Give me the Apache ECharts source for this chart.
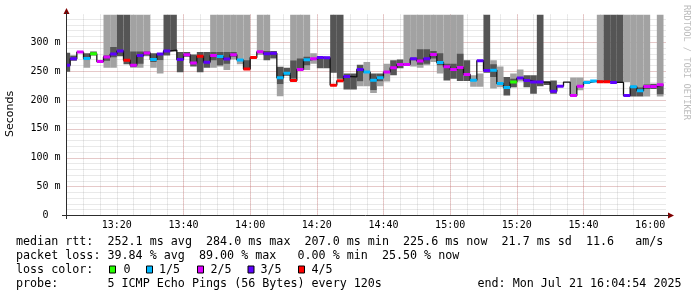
<!DOCTYPE html>
<html><head><meta charset="utf-8">
<script src="https://cdn.jsdelivr.net/npm/echarts@6/dist/echarts.min.js"></script>
<style>html,body{margin:0;padding:0;background:#fff}#c{width:697px;height:297px}</style>
</head><body><div id="c"></div>
<script>
// time in minutes after 13:00; view 13:04:54 .. 16:04:54, one sample every 2 min
const viewStart = 4.9;
const viewEnd = 184.9;
const stepMin = 2;
const firstEnd = 6; // sample i covers (firstEnd-2+2i, firstEnd+2i]
const plotTop = 348;
const majorTicks = [20,40,60,80,100,120,140,160,180];          // 13:20 ... 16:00
const minorTicks = [5,10,15,20,25,30,35,40,45,50,55,60,65,70,75,80,85,90,95,100,
  105,110,115,120,125,130,135,140,145,150,155,160,165,170,175,180];

const median = [260,271.5,283,272,280,266.5,274.5,279.5,285,269,
 260,277,281.5,270,279.5,285,286.5,270,278.5,264,
 276,265.5,277,275.5,271,278.5,269.5,253.5,273.5,283.5,
 280,281,238.5,246.5,233.8,253,269.7,271.4,273.7,273,
 225.7,233.2,240.7,240,253,248.3,234.4,238.4,248.3,255.8,
 261.6,261.6,271.4,267.4,271.4,279,265,257.5,252.9,256.4,
 244,234.4,268,251,251.7,228.6,221.7,231,238,234,
 231,231,231,215,224,231,207.6,224,230.5,232.8,
 231.7,231.7,230.5,230.5,207.6,222.8,215.9,223.4,223.4,226.3];
// loss index: 0 = 0, 1 = 1/5, 2 = 2/5, 3 = 3/5, 4 = 4/5, -1 = not coloured
const loss = [3,3,2,1,0,2,2,3,3,4,
 2,3,2,1,3,3,-1,3,2,2,
 4,3,2,1,3,2,1,4,4,2,
 3,3,1,1,4,2,1,2,3,3,
 4,4,3,-1,3,1,1,1,2,2,
 2,2,3,2,3,2,1,2,2,2,
 2,1,3,3,1,1,1,0,3,3,
 3,3,-1,3,3,-1,2,2,1,1,
 4,4,3,-1,3,1,1,2,2,2];
const lightLo = [null,null,null,256,null,null,256,256,null,null,
 256,256,276,256,246,null,null,null,null,null,
 null,null,256,258,252,270,262,252,null,278,
 278,null,206.5,null,269,269,252,263,null,null,
 null,null,null,null,224,224,212,224,232,null,
 null,260,258,256,260,266,246,250,250,250,
 null,223,223,null,220,222,null,222,232,null,
 null,null,null,null,null,null,206,217,228,null,
 232,null,null,null,231,225,222,206,null,206];
const lightHi = [null,null,null,269,null,null,348,348,null,null,
 348,348,348,266,269,null,null,null,null,null,
 null,null,348,348,348,348,348,348,null,348,
 348,null,227.5,null,348,348,348,281,null,null,
 null,null,null,null,232,266,217,232,263,null,
 null,348,348,348,348,348,348,348,348,348,
 null,243,246,null,269,258,null,246,253,null,
 null,null,null,null,null,null,239,239,234,null,
 348,null,null,null,348,348,348,348,null,348];
const darkLo = [249,268,null,269,277,null,268,274,276,262,
 257,263,277,266,269,277,284,248,275,258,
 248,256,269,260,263,275,null,254,null,null,
 269,272,227.5,242,237,253,260,null,255,255,
 247,237,218,218,232,null,217,232,null,243,
 255,null,269,261,263,272,260,234,237,233,
 233,null,null,247,240,null,208,222,null,222,
 211,224,226,211,null,null,null,null,null,null,
 null,232,231,231,null,206,206,219,219,210];
const darkHi = [282,277,null,281,284,null,277,292,348,348,
 284,284,284,281,281,348,348,283,283,279,
 283,283,283,283,283,283,null,269,null,null,
 285,285,257.5,256,269,272,275,null,274,275,
 348,348,246,246,261,null,246,246,null,269,
 270,null,273,288,288,285,281,263,263,280,
 269,null,null,348,262,null,240,237,null,243,
 243,348,232,234,null,null,null,null,null,null,
 null,348,348,348,null,225,222,227,228,225];

const lossColors = ['#26ff00','#00b8ff','#dd00ff','#5e00ff','#ff0000'];
const lossLabels = ['0','1/5','2/5','3/5','4/5'];
const smokeDark = '#555555', smokeLight = '#a2a2a2';
const minorGrid = 'rgba(140,140,140,0.38)', majorGrid = 'rgba(222,80,80,0.42)';

function bounds(i){
  const e = firstEnd + i*stepMin;
  return [Math.max(e - stepMin, viewStart), Math.min(e, viewEnd)];
}
const smokeData = median.map((m,i)=>{const b=bounds(i);return [b[0],b[1],lightLo[i],lightHi[i],darkLo[i],darkHi[i]];});
const stepLine = [];
median.forEach((m,i)=>{const b=bounds(i);stepLine.push([b[0],m],[b[1],m]);});
const medData = median.map((m,i)=>{const b=bounds(i);return [b[0],b[1],m,loss[i]];});

function box(api,x0,x1,lo,hi,fill){
  const a = api.coord([x0,hi]), b = api.coord([x1,lo]);
  return {type:'rect',shape:{x:a[0],y:a[1],width:b[0]-a[0],height:b[1]-a[1]},style:{fill:fill}};
}
const mono = 'DejaVu Sans Mono';
const chart = echarts.init(document.getElementById('c'),null,{renderer:'canvas'});
const fmtTime = v=>{const h=13+Math.floor(v/60), m=Math.round(v%60);return h+':'+(m<10?'0':'')+m;};

const legendY = [241.5,255.5,269.5,283.5];
const graphic = [
  {type:'text',x:10,y:114,rotation:Math.PI/2,style:{text:'Seconds',font:'11px "DejaVu Sans"',fill:'#000',align:'center',verticalAlign:'middle'}},
  {type:'text',x:686.5,y:5,rotation:-Math.PI/2,style:{text:'RRDTOOL / TOBI OETIKER',font:'8.7px "DejaVu Sans Mono"',fill:'#bdbdbd',align:'left',verticalAlign:'middle'}},
  {type:'polygon',z:20,shape:{points:[[66.5,8],[63.5,14],[69.5,14]]},style:{fill:'#7f0000'}},
  {type:'polygon',z:20,shape:{points:[[674,215.5],[668,212.5],[668,218.5]]},style:{fill:'#7f0000'}},
  {type:'line',z:20,shape:{x1:62,y1:215.5,x2:669,y2:215.5},style:{stroke:'#2c2c2c',lineWidth:1}},
  {type:'line',z:20,shape:{x1:66.5,y1:12,x2:66.5,y2:219},style:{stroke:'#2c2c2c',lineWidth:1}},
  {type:'text',x:16,y:legendY[0],style:{text:'median rtt:  252.1 ms avg  284.0 ms max  207.0 ms min  225.6 ms now  21.7 ms sd  11.6   am/s',font:'11.7px "DejaVu Sans Mono"',fill:'#000',verticalAlign:'middle'}},
  {type:'text',x:16,y:legendY[1],style:{text:'packet loss: 39.84 % avg  89.00 % max   0.00 % min  25.50 % now',font:'11.7px "DejaVu Sans Mono"',fill:'#000',verticalAlign:'middle'}},
  {type:'text',x:16,y:legendY[2],style:{text:'loss color:',font:'11.7px "DejaVu Sans Mono"',fill:'#000',verticalAlign:'middle'}},
  {type:'text',x:16,y:legendY[3],style:{text:'probe:       5 ICMP Echo Pings (56 Bytes) every 120s',font:'11.7px "DejaVu Sans Mono"',fill:'#000',verticalAlign:'middle'}},
  {type:'text',x:477.5,y:legendY[3],style:{text:'end: Mon Jul 21 16:04:54 2025',font:'11.7px "DejaVu Sans Mono"',fill:'#000',verticalAlign:'middle'}}
];
const boxX = [109,146,197,247.5,298];
const labX = [123.5,159,210.5,260.5,311.5];
lossLabels.forEach((t,k)=>{
  graphic.push({type:'rect',shape:{x:boxX[k]+0.5,y:legendY[2]-3.5,width:6,height:7},style:{fill:lossColors[k],stroke:'#000',lineWidth:1}});
  graphic.push({type:'text',x:labX[k],y:legendY[2],style:{text:t,font:'11.7px "DejaVu Sans Mono"',fill:'#000',verticalAlign:'middle'}});
});

chart.setOption({
  animation:false,
  backgroundColor:'#fff',
  grid:{left:66.5,right:697-666.5,top:215-plotTop*0.576,bottom:297-215.5,containLabel:false},
  xAxis:[
    {type:'value',position:'bottom',min:viewStart,max:viewEnd,
     axisLine:{show:false},axisTick:{show:false,customValues:minorTicks},axisLabel:{show:false,customValues:minorTicks},
     splitLine:{show:true,showMinLine:false,showMaxLine:false,lineStyle:{color:minorGrid,type:[1,1],width:1}}},
    {type:'value',position:'bottom',min:viewStart,max:viewEnd,z:1,
     axisLine:{show:false},axisTick:{show:false,customValues:majorTicks},
     axisLabel:{show:true,customValues:majorTicks,formatter:fmtTime,fontFamily:mono,fontSize:10,color:'#000',margin:5},
     splitLine:{show:true,showMinLine:false,showMaxLine:false,lineStyle:{color:majorGrid,type:[1,1],width:1}}}
  ],
  yAxis:[
    {type:'value',position:'left',min:0,max:plotTop,interval:10,
     axisLine:{show:false},axisTick:{show:false},axisLabel:{show:false},
     splitLine:{show:true,showMinLine:false,showMaxLine:false,lineStyle:{color:minorGrid,type:[1,1],width:1}}},
    {type:'value',position:'left',min:0,max:plotTop,interval:50,z:1,
     axisLine:{show:false},axisTick:{show:false},
     axisLabel:{show:true,showMaxLabel:false,formatter:v=>v===0?'0\u00a0\u00a0':v+' m',fontFamily:mono,fontSize:10,color:'#000',margin:6},
     splitLine:{show:true,showMinLine:false,showMaxLine:false,lineStyle:{color:majorGrid,type:[1,1],width:1}}}
  ],
  graphic:graphic,
  series:[
    {type:'custom',xAxisIndex:1,yAxisIndex:1,z:2,clip:true,data:smokeData,
     encode:{x:[0,1],y:[2,3,4,5]},
     renderItem:(params,api)=>{
       const x0=api.value(0),x1=api.value(1);
       const ll=api.value(2),lh=api.value(3),dl=api.value(4),dh=api.value(5);
       const ch=[];
       if(!isNaN(ll)&&!isNaN(lh)) ch.push(box(api,x0,x1,ll,lh,smokeLight));
       if(!isNaN(dl)&&!isNaN(dh)) ch.push(box(api,x0,x1,dl,dh,smokeDark));
       return {type:'group',children:ch};
     }},
    {type:'line',xAxisIndex:1,yAxisIndex:1,z:3,data:stepLine,showSymbol:false,symbol:'none',
     lineStyle:{color:'#111',width:1.3},silent:true},
    {type:'custom',xAxisIndex:1,yAxisIndex:1,z:4,clip:true,data:medData,
     encode:{x:[0,1],y:2},
     renderItem:(params,api)=>{
       const k=api.value(3); if(k<0) return null;
       const a=api.coord([api.value(0),api.value(2)]), b=api.coord([api.value(1),api.value(2)]);
       return {type:'rect',shape:{x:a[0],y:a[1]-1.5,width:b[0]-a[0],height:3},style:{fill:lossColors[k]}};
     }}
  ]
});
</script></body></html>
